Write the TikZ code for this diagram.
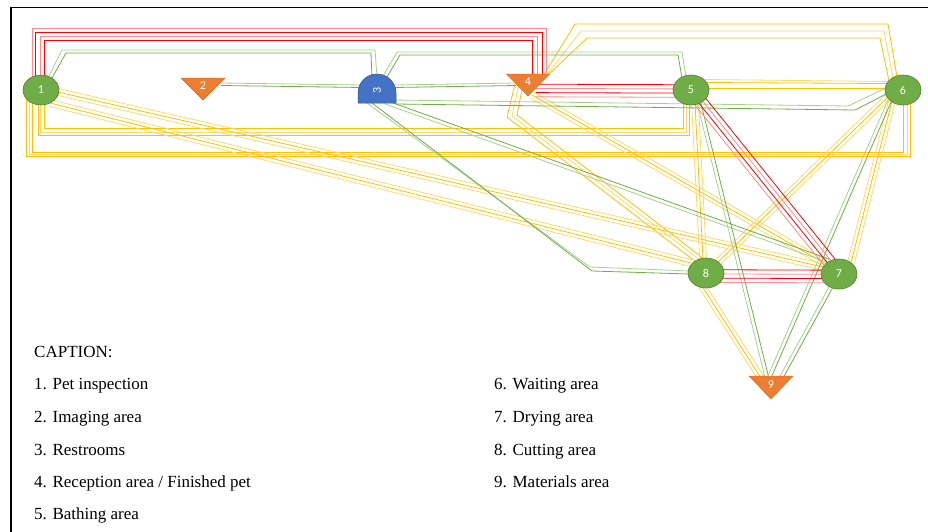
\documentclass[tikz,border=0pt]{standalone}
\usepackage{fontspec}
\setmainfont{Liberation Serif}
\newfontfamily\labfont{Carlito}
\usetikzlibrary{calc,shapes.geometric}
\definecolor{gfill}{HTML}{70AD47}
\definecolor{gborder}{HTML}{507E32}
\definecolor{ofill}{HTML}{ED7D31}
\definecolor{bfill}{HTML}{4472C4}
\definecolor{bborder}{HTML}{2F528F}
\definecolor{rA}{HTML}{FF0000}
\definecolor{rB}{HTML}{FF8B8B}
\definecolor{yA}{HTML}{FFC000}
\definecolor{yB}{HTML}{FFD966}
\definecolor{gA}{HTML}{70AD47}
\definecolor{gB}{HTML}{A9D18E}
\pgfdeclarelayer{bg}
\pgfdeclarelayer{edges}
\pgfdeclarelayer{shapes}
\pgfsetlayers{bg,edges,shapes,main}
\newcommand\bundle[5]{\foreach \o [count=\k] in {#3}{\ifodd\k\def\cc{#2}\else\def\cc{#1}\fi\draw[ln,draw=\cc] ($(#4)!\o!90:(#5)$) -- ($(#5)!\o!-90:(#4)$);}}
\begin{document}
\begin{tikzpicture}[x=1pt,y=-1pt,
  ln/.style={line width=0.8pt},
  circnode/.style={ellipse,fill=gfill,draw=gborder,line width=0.6pt,minimum width=36pt,minimum height=30pt,inner sep=0pt,text=white,font=\labfont\fontsize{12}{12}\selectfont},
  lab/.style={text=white,inner sep=0pt,font=\labfont\fontsize{12}{12}\selectfont},
  tri/.style={fill=ofill,draw=ofill!85!black,line width=0.4pt},
  dome/.style={fill=bfill,draw=bborder,line width=0.5pt},
  captext/.style={anchor=base west,inner sep=0pt,font=\fontsize{17}{20}\selectfont}]
\useasboundingbox (0,0) rectangle (928,531);
\begin{pgfonlayer}{bg}
\fill[white] (0,0) rectangle (928,531);
\end{pgfonlayer}
% frame
\draw[line width=1.8pt] (11,545) -- (11,7.5) -- (945,7.5);

% nodes
\node[circnode] (n1) at (41,90) {\raisebox{-1.5pt}{1}};
\node[lab] (n2) at (203,86) {2};
\node[lab,rotate=90] (n3) at (377,90) {3};
\node[lab] (n4) at (528,82) {4};
\node[circnode] (n5) at (691,90) {\raisebox{-1.5pt}{5}};
\node[circnode] (n6) at (903,90) {\raisebox{-1.5pt}{6}};
\node[circnode] (n7) at (839,274) {\raisebox{-1.5pt}{7}};
\node[circnode] (n8) at (706,273) {\raisebox{-1.5pt}{8}};
\node[lab] (n9) at (771,385) {9};

\begin{pgfonlayer}{shapes}
\filldraw[tri,shift={(n2.center)}] (-22,-8) -- (22,-8) -- (0,14) -- cycle;
\filldraw[tri,shift={(n4.center)}] (-21.5,-8) -- (21.5,-8) -- (0,14) -- cycle;
\filldraw[tri,shift={(n9.center)}] (-22,-9) -- (22,-9) -- (0,14) -- cycle;
\filldraw[dome,shift={(n3.center)}] (-19,13) -- (-19,3) .. controls (-19,-7.5) and (-10.5,-16) .. (0,-16) .. controls (10.5,-16) and (19,-7.5) .. (19,3) -- (19,13) -- cycle;
\end{pgfonlayer}

% connector end points
\coordinate (r45s) at ($(n4)+(8,8.5)$); \coordinate (r45e) at ($(n5)+(-12,1)$);
\coordinate (r87s) at ($(n8)+(0,3)$); \coordinate (r87e) at ($(n7)+(0,2.5)$);
\coordinate (g37s) at ($(n3)+(8,12)$); \coordinate (g37e) at ($(n7)+(-10,-13)$);
\coordinate (g59s) at ($(n5)+(8,13)$); \coordinate (g59e) at ($(n9)+(-4,-7)$);
\coordinate (g69s) at ($(n6)+(-13,10)$); \coordinate (g69e) at ($(n9)+(-2,-7)$);
\coordinate (g79s) at ($(n7)+(-8,13)$); \coordinate (g79e) at ($(n9)+(10,-7)$);
\coordinate (y17s) at ($(n1)+(17,2)$); \coordinate (y17e) at ($(n7)+(-16,-7)$);
\coordinate (y18s) at ($(n1)+(9,13)$); \coordinate (y18e) at ($(n8)+(-15,-10)$);
\coordinate (y47s) at ($(n4)+(4,13)$); \coordinate (y47e) at ($(n7)+(-13,-10)$);
\coordinate (y58s) at ($(n5)+(4,13)$); \coordinate (y58e) at ($(n8)+(-3,-14)$);
\coordinate (y68s) at ($(n6)+(-15,7)$); \coordinate (y68e) at ($(n8)+(12,-11)$);
\coordinate (y67s) at ($(n6)+(-11,11)$); \coordinate (y67e) at ($(n7)+(12,-11)$);
\coordinate (y89s) at ($(n8)+(-4,13)$); \coordinate (y89e) at ($(n9)+(-10,-7)$);

\begin{pgfonlayer}{edges}
% ---- yellow ----
% 1-5
\draw[ln,yA] ($(n1)+(3,10)$) -- (44,128) -- (683,128) -- ($(n5)+(-8,12)$);
\draw[ln,yB] ($(n1)+(-1,10)$) -- (40,132) -- (686,132) -- ($(n5)+(-5,12)$);
\draw[ln,yA] ($(n1)+(-3,10)$) -- (38,135.5) -- (689,135.5) -- ($(n5)+(-2,12)$);
% 1-6
\draw[ln,yA] ($(n1)+(-9,8)$) -- (32,152) -- (903,152) -- ($(n6)+(0,12)$);
\draw[ln,yB] ($(n1)+(-12,8)$) -- (29,154) -- (907,154) -- ($(n6)+(4,12)$);
\draw[ln,yA] ($(n1)+(-15,5)$) -- (26,156.5) -- (910,156.5) -- ($(n6)+(7,12)$);
% 4-6
\draw[ln,yA] ($(n4)+(15,-6)$) -- (575,24) -- (888,24) -- ($(n6)+(-6,-13)$);
\draw[ln,yB] ($(n4)+(18,-6)$) -- (581,31) -- (884,31) -- ($(n6)+(-10,-12)$);
\draw[ln,yA] ($(n4)+(20,-7)$) -- (587,38) -- (880,38) -- ($(n6)+(-14,-9)$);
% 5-6
\draw[ln,yB] ($(n5)+(14,-10.5)$) -- ($(n6)+(-15,-8.5)$);
\draw[ln,yA] ($(n5)+(15,-7.5)$) -- ($(n6)+(-16,-6.5)$);
\draw[ln,yA] ($(n5)+(17,-2)$) -- ($(n6)+(-17,-2)$);
% 4-8
\draw[ln,yA] ($(n4)+(-13,2)$) -- (507,117) -- ($(n8)+(-10,-11)$);
\draw[ln,yB] ($(n4)+(-9,2)$) -- (512,116) -- ($(n8)+(-6,-13)$);
\draw[ln,yA] ($(n4)+(-5,2)$) -- (517,115) -- ($(n8)+(-2,-14)$);
% straight yellow bundles
\bundle{yA}{yB}{-3.4pt,0pt,3.4pt}{y17s}{y17e}
\bundle{yA}{yB}{-3.4pt,0pt,3.4pt}{y18s}{y18e}
\bundle{yA}{yB}{-3.4pt,0pt,3.4pt}{y47s}{y47e}
\bundle{yA}{yB}{-3.4pt,0pt,3.4pt}{y58s}{y58e}
\bundle{yA}{yB}{-3.4pt,0pt,3.4pt}{y68s}{y68e}
\bundle{yA}{yB}{-3.4pt,0pt,3.4pt}{y67s}{y67e}
\bundle{yA}{yB}{-3.4pt,0pt,3.4pt}{y89s}{y89e}
% ---- green ----
% 1-3
\draw[ln,gB] ($(n1)+(7,-12)$) -- (62,50) -- (375,50) -- ($(n3)+(0,-13)$);
\draw[ln,gA] ($(n1)+(11,-12)$) -- (66,53) -- (371,53) -- ($(n3)+(-5,-12)$);
% 2-3
\draw[ln,gB] ($(n2)+(18,-3)$) -- ($(n3)+(-15,-5)$);
\draw[ln,gA] ($(n2)+(18,-0.5)$) -- ($(n3)+(-15,-2.5)$);
% 3-4
\draw[ln,gB] ($(n3)+(17,-5)$) -- ($(n4)+(-12,1)$);
\draw[ln,gA] ($(n3)+(17,-2.5)$) -- ($(n4)+(-12,3.5)$);
% 3-5
\draw[ln,gB] ($(n3)+(6,-14)$) -- (397,52) -- (682,52) -- ($(n5)+(-5,-13)$);
\draw[ln,gA] ($(n3)+(10,-13)$) -- (400,55) -- (678,55) -- ($(n5)+(-9,-12)$);
% 3-6
\draw[ln,gB] ($(n3)+(15,10)$) -- (848,106) -- ($(n6)+(-17,-2)$);
\draw[ln,gA] ($(n3)+(19,14)$) -- (855,110) -- ($(n6)+(-15,3)$);
% 3-8
\draw[ln,gB] ($(n3)+(-10,13)$) -- (590,267) -- ($(n8)+(-16,-2)$);
\draw[ln,gA] ($(n3)+(-5,13)$) -- (592,271) -- ($(n8)+(-16,1)$);
% straight green bundles
\bundle{gA}{gB}{-1.8pt,1.8pt}{g37s}{g37e}
\bundle{gA}{gB}{-1.8pt,1.8pt}{g59s}{g59e}
\bundle{gA}{gB}{-1.8pt,1.8pt}{g69s}{g69e}
\bundle{gA}{gB}{-1.8pt,1.8pt}{g79s}{g79e}
% ---- red ----
\draw[ln,rB] ($(n1)+(-9,0)$) -- (32,28) -- (546,28) -- ($(n4)+(18,-6)$);
\draw[ln,rA] ($(n1)+(-5.5,0)$) -- (35.5,32) -- (542,32) -- ($(n4)+(14,-6)$);
\draw[ln,rB] ($(n1)+(-1,0)$) -- (40,36) -- (537,36) -- ($(n4)+(9,-6)$);
\draw[ln,rA] ($(n1)+(3,0)$) -- (44,40) -- (532,40) -- ($(n4)+(4,-6)$);
\bundle{rA}{rB}{-6.3pt,-2.1pt,2.1pt,6.3pt}{r45s}{r45e}
\bundle{rA}{rB}{-6.3pt,-2.1pt,2.1pt,6.3pt}{n5}{n7}
\bundle{rA}{rB}{-6.3pt,-2.1pt,2.1pt,6.3pt}{r87s}{r87e}
\end{pgfonlayer}

% caption
\node[captext] (c0) at (34,357) {CAPTION:};
\node[captext] (c1) at (34,389) {1. Pet inspection};
\node[captext] (c2) at (34,422) {2. Imaging area};
\node[captext] (c3) at (34,455) {3. Restrooms};
\node[captext] (c4) at (34,487) {4. Reception area / Finished pet};
\node[captext] (c5) at (34,519) {5. Bathing area};
\node[captext] (c6) at (494,389) {6. Waiting area};
\node[captext] (c7) at (494,422) {7. Drying area};
\node[captext] (c8) at (494,455) {8. Cutting area};
\node[captext] (c9) at (494,487) {9. Materials area};
\end{tikzpicture}
\end{document}
